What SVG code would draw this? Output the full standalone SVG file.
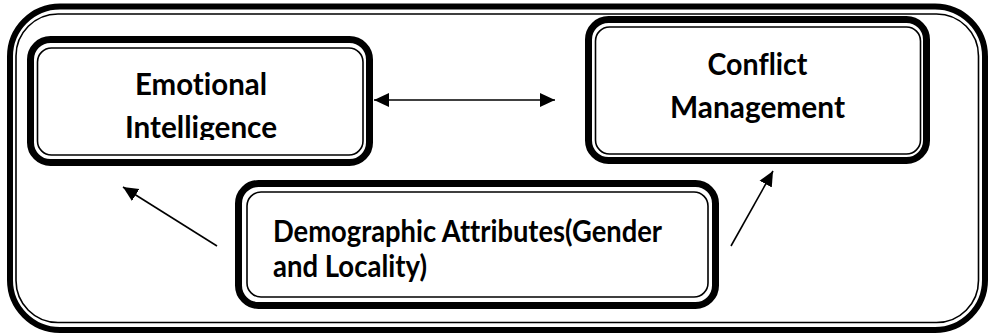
<svg xmlns="http://www.w3.org/2000/svg" width="989" height="335" viewBox="0 0 989 335">
  <style>
    .thick { fill: none; stroke: #000; stroke-width: 7; }
    .thin { fill: none; stroke: #000; stroke-width: 1.6; }
    .label { font-family: Lato, "Liberation Sans", sans-serif; font-weight: bold; font-size: 30px; fill: #000; font-variant-ligatures: none; }
    .conn { stroke: #000; stroke-width: 1.6; fill: none; }
  </style>
  <defs>
    <marker id="arrow" markerUnits="userSpaceOnUse" markerWidth="16" markerHeight="16" viewBox="0 0 16 16" refX="15" refY="8" orient="auto-start-reverse">
      <path d="M0,1 L15,8 L0,15 Z" fill="#000"/>
    </marker>
    <clipPath id="clipEI">
      <rect x="37" y="48" width="326" height="92"/>
    </clipPath>
  </defs>
  <rect width="989" height="335" fill="#fff"/>
  <g id="frame">
    <rect class="thick" x="10" y="6.5" width="975" height="323.5" rx="50" ry="50" style="stroke-width:6"/>
    <rect class="thin" x="16" y="14" width="962.5" height="308.5" rx="42" ry="42"/>
  </g>
  <g id="connectors">
    <line class="conn" x1="374" y1="100" x2="555" y2="100" marker-start="url(#arrow)" marker-end="url(#arrow)"/>
    <line class="conn" x1="217" y1="246" x2="123" y2="187" marker-end="url(#arrow)"/>
    <line class="conn" x1="731" y1="246" x2="773" y2="171" marker-end="url(#arrow)"/>
  </g>
  <g id="emotional-intelligence">
    <rect class="thick" x="30.5" y="39.5" width="339" height="123" rx="20" ry="20"/>
    <rect class="thin" x="37.5" y="48" width="325.5" height="107" rx="14" ry="14"/>
    <g clip-path="url(#clipEI)">
      <text class="label" x="201" y="95" text-anchor="middle" textLength="132" lengthAdjust="spacingAndGlyphs">Emotional</text>
      <text class="label" x="201" y="138" text-anchor="middle" textLength="152" lengthAdjust="spacingAndGlyphs">Intelligence</text>
    </g>
  </g>
  <g id="conflict-management">
    <rect class="thick" x="588.5" y="19.5" width="338" height="141" rx="20" ry="20"/>
    <rect class="thin" x="595.5" y="27" width="325" height="127" rx="14" ry="14"/>
    <text class="label" x="757.5" y="75" text-anchor="middle" textLength="100" lengthAdjust="spacingAndGlyphs">Conflict</text>
    <text class="label" x="757.5" y="118" text-anchor="middle" textLength="175" lengthAdjust="spacingAndGlyphs">Management</text>
  </g>
  <g id="demographic-attributes">
    <rect class="thick" x="238.5" y="183.5" width="477" height="122" rx="20" ry="20"/>
    <rect class="thin" x="247" y="192" width="461" height="105" rx="14" ry="14"/>
    <text class="label" x="273" y="242" textLength="389" lengthAdjust="spacingAndGlyphs">Demographic Attributes(Gender</text>
    <text class="label" x="273" y="277" textLength="154" lengthAdjust="spacingAndGlyphs">and Locality)</text>
  </g>
</svg>
